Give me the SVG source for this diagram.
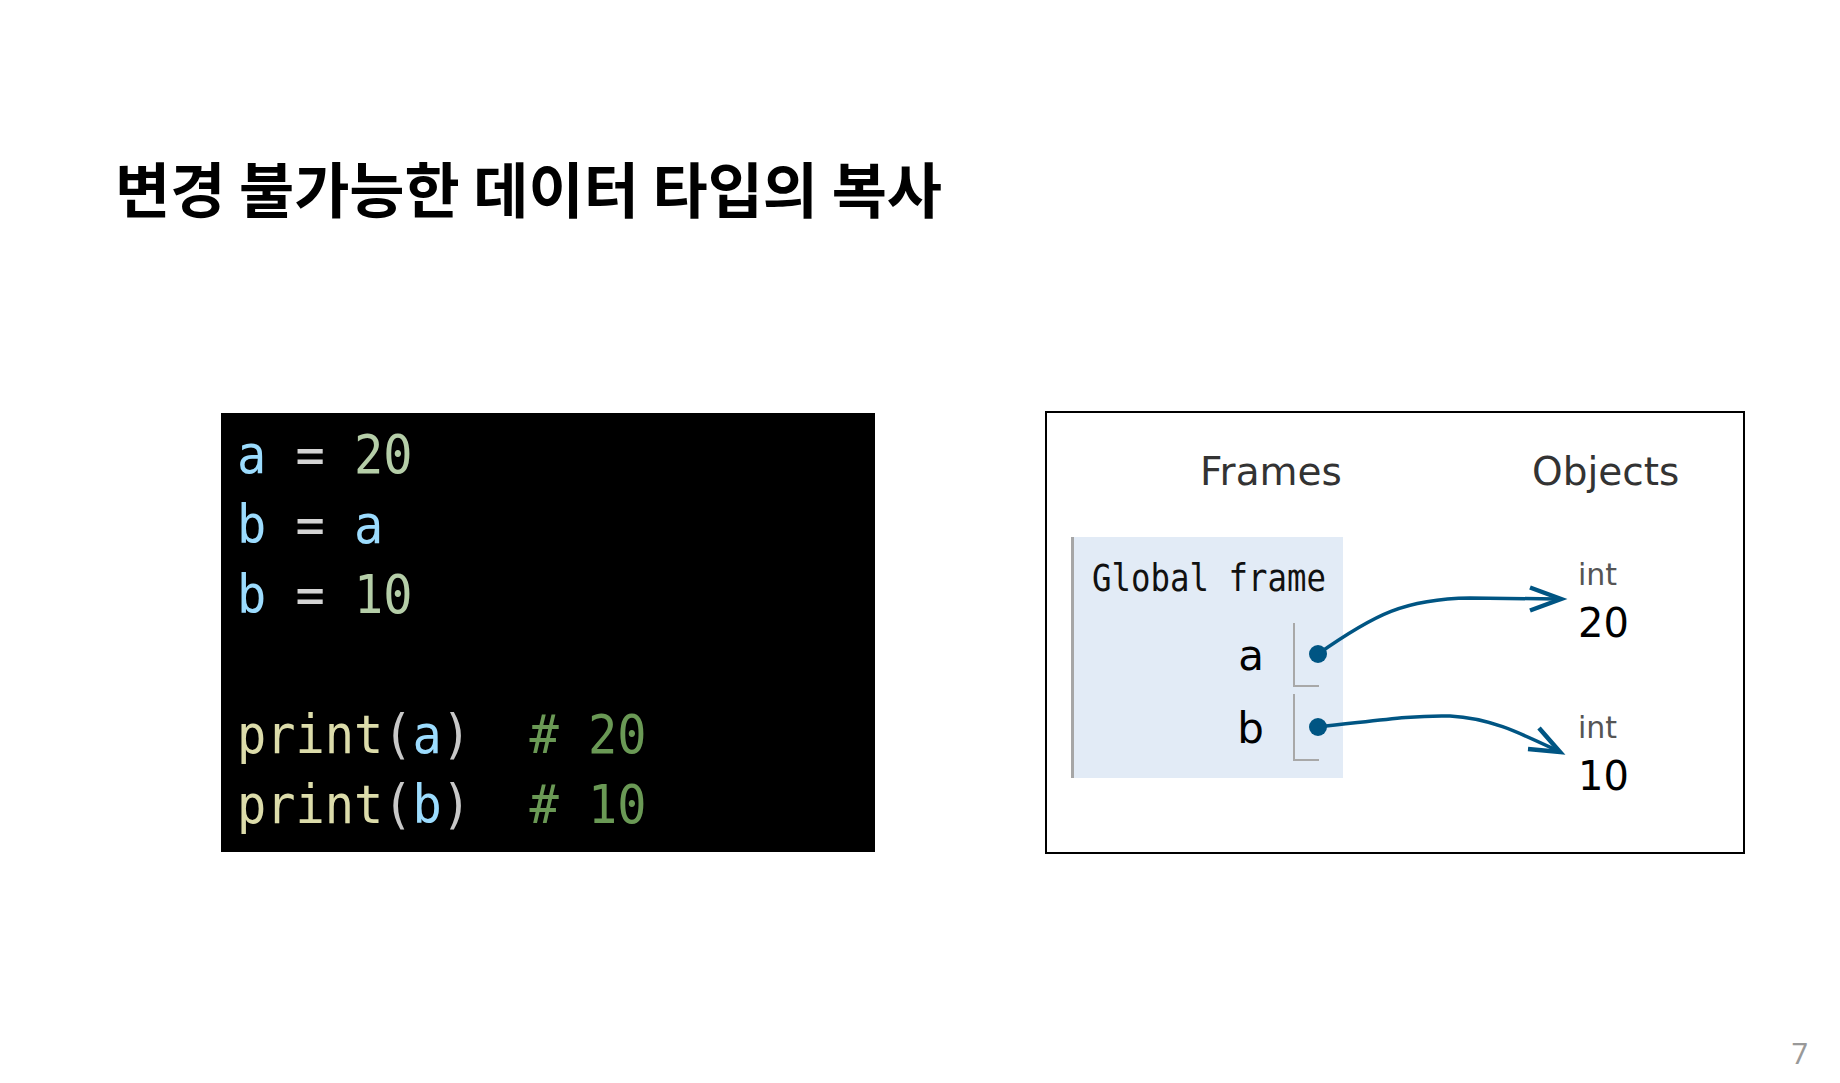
<svg xmlns="http://www.w3.org/2000/svg" width="1840" height="1083" viewBox="0 0 1840 1083">
  <style>
    .title{font-family:"Noto Sans CJK KR","Noto Sans",sans-serif;font-weight:700;font-size:60px;fill:#000}
    .code{font-family:"DejaVu Sans Mono","Liberation Mono",monospace;font-size:54px;white-space:pre}
    .v{fill:#9cdcfe}.o{fill:#d4d4d4}.n{fill:#b5cea8}.f{fill:#dcdcaa}.p{fill:#c8c8c8}.c{fill:#6a9955}
    .hdr{font-family:"DejaVu Sans","Noto Sans",sans-serif;font-size:39px;fill:#333}
    .gf{font-family:"DejaVu Sans Mono","Liberation Mono",monospace;font-size:37px;fill:#111;white-space:pre}
    .var{font-family:"DejaVu Sans","Noto Sans",sans-serif;font-size:42px;fill:#000}
    .typ{font-family:"DejaVu Sans","Noto Sans",sans-serif;font-size:30px;fill:#555}
    .val{font-family:"DejaVu Sans","Noto Sans",sans-serif;font-size:40px;fill:#000}
    .brk{fill:none;stroke:#a8a8a8;stroke-width:2}
    .ptr{fill:#005583}
    .edge{fill:none;stroke:#005583;stroke-width:3.5}
    .head{fill:none;stroke:#005583;stroke-width:4.5;stroke-linejoin:miter;stroke-linecap:butt}
  </style>

  <rect width="1840" height="1083" fill="#fff"/>

  <g id="title">
    <text class="title" x="115" y="213" textLength="827" lengthAdjust="spacingAndGlyphs">변경 불가능한 데이터 타입의 복사</text>
  </g>

  <g id="code">
    <rect x="221" y="413" width="654" height="439" fill="#000"/>
    <g transform="translate(237,0) scale(0.9,1)">
      <text class="code" x="0" y="473" xml:space="preserve"><tspan class="v">a</tspan><tspan class="o"> = </tspan><tspan class="n">20</tspan></text>
      <text class="code" x="0" y="543" xml:space="preserve"><tspan class="v">b</tspan><tspan class="o"> = </tspan><tspan class="v">a</tspan></text>
      <text class="code" x="0" y="613" xml:space="preserve"><tspan class="v">b</tspan><tspan class="o"> = </tspan><tspan class="n">10</tspan></text>
      <text class="code" x="0" y="753" xml:space="preserve"><tspan class="f">print</tspan><tspan class="p">(</tspan><tspan class="v">a</tspan><tspan class="p">)</tspan><tspan class="c">  # 20</tspan></text>
      <text class="code" x="0" y="823" xml:space="preserve"><tspan class="f">print</tspan><tspan class="p">(</tspan><tspan class="v">b</tspan><tspan class="p">)</tspan><tspan class="c">  # 10</tspan></text>
    </g>
  </g>

  <g id="viz-panel">
    <rect x="1046" y="412" width="698" height="441" fill="#fff" stroke="#000" stroke-width="2"/>
    <text class="hdr" x="1200" y="485">Frames</text>
    <text class="hdr" x="1532" y="485">Objects</text>
  </g>

  <g id="global-frame">
    <rect x="1071" y="537" width="272" height="241" fill="#e2ebf6"/>
    <line x1="1072.5" y1="537" x2="1072.5" y2="778" stroke="#a6a6a6" stroke-width="3"/>
    <text class="gf" x="1092" y="591" xml:space="preserve" textLength="234" lengthAdjust="spacingAndGlyphs">Global frame</text>
  </g>

  <g id="var-a">
    <text class="var" x="1264" y="670" text-anchor="end">a</text>
    <path class="brk" d="M1294,623 V686 H1319"/>
    <circle class="ptr" cx="1318" cy="654" r="9"/>
  </g>

  <g id="var-b">
    <text class="var" x="1264" y="743" text-anchor="end">b</text>
    <path class="brk" d="M1294,694 V760 H1319"/>
    <circle class="ptr" cx="1318" cy="727" r="9"/>
  </g>

  <g id="obj-20">
    <text class="typ" x="1578" y="585">int</text>
    <text class="val" x="1578" y="637">20</text>
  </g>

  <g id="obj-10">
    <text class="typ" x="1578" y="738">int</text>
    <text class="val" x="1578" y="790">10</text>
  </g>

  <g id="connectors">
    <path class="edge" d="M1318,654 C1375,614 1405,599 1470,598 L1558,599"/>
    <path class="head" d="M1530,587.5 L1561,599 L1530,610.5"/>
    <path class="edge" d="M1318,727 C1375,721 1410,715 1450,716 C1490,718 1520,733 1558,751"/>
    <path class="head" d="M1528,749 L1560,752 L1539,728"/>
  </g>

  <g id="page-number">
    <text x="1808" y="1064" text-anchor="end" font-family="'Noto Sans','DejaVu Sans',sans-serif" font-size="29" fill="#999">7</text>
  </g>
</svg>
